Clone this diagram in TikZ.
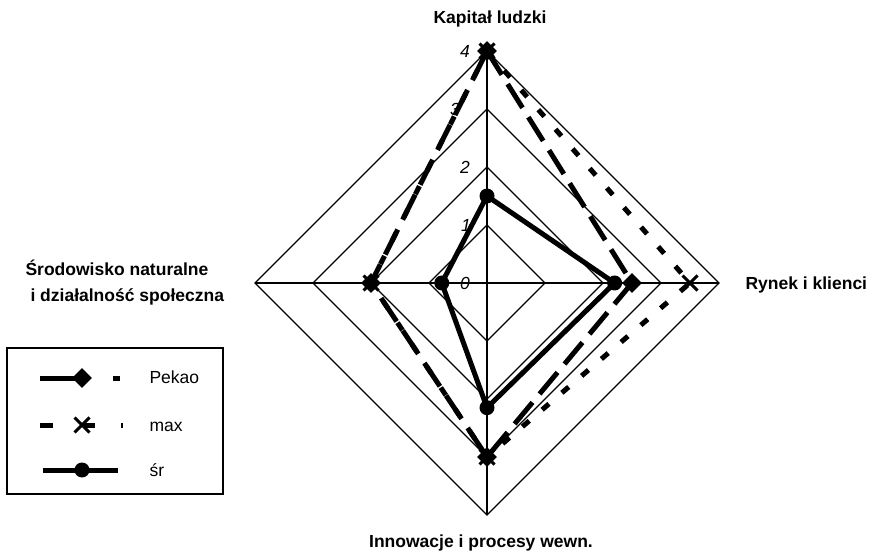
\documentclass[tikz,border=0pt]{standalone}
\usepackage{fontspec}
\setmainfont{Liberation Sans}
\usetikzlibrary{shapes,positioning,calc}

\tikzset{
  ring/.style={line width=1.3pt},
  pekaoline/.style={line width=5pt, dash pattern=on 28pt off 11pt},
  maxline/.style={line width=5pt, dash pattern=on 9pt off 17pt},
  srline/.style={line width=5pt, line join=round},
  pekaomark/.style={diamond, fill=black, inner sep=0pt, minimum size=20pt},
  srmark/.style={circle, fill=black, inner sep=0pt, minimum size=15pt},
  maxmark/.style={cross out, draw=black, line width=3pt, inner sep=0pt, minimum size=12pt},
  axlabel/.style={font=\fontsize{17.5}{21}\selectfont\bfseries},
  ticklabel/.style={font=\fontsize{17.5}{21}\selectfont\itshape},
  legtext/.style={font=\fontsize{17.5}{21}\selectfont, anchor=base west}
}

\begin{document}
\begin{tikzpicture}[x=1pt,y=-1pt]
\useasboundingbox (0,0) rectangle (873,553);
\def\u{58}
\coordinate (c) at (487,283);

% siatka
\foreach \r in {1,2,3,4}
  \draw[ring] ($(c)+(0,-\r*\u)$) -- ($(c)+(\r*\u,0)$) -- ($(c)+(0,\r*\u)$) -- ($(c)+(-\r*\u,0)$) -- cycle;
\coordinate (top) at ($(c)+(0,-4*\u)$);
\coordinate (bot) at ($(c)+(0,4*\u)$);
\coordinate (lft) at ($(c)+(-4*\u,0)$);
\coordinate (rgt) at ($(c)+(4*\u,0)$);
\draw[ring] (top) -- (bot);
\draw[ring] (lft) -- (rgt);

% skala
\foreach \v/\dx in {0/-22,1/-21,2/-22,3/-32,4/-22}
  \node[ticklabel] (t\v) at ($(c)+(\dx,-\v*\u)$) {\v};

% max
\coordinate (mx1) at ($(c)+(0,-4*\u)$);
\coordinate (mx2) at ($(c)+(3.5*\u,0)$);
\coordinate (mx3) at ($(c)+(0,3*\u)$);
\coordinate (mx4) at ($(c)+(-2*\u,0)$);
\draw[maxline] (mx1) -- (mx2) -- (mx3) -- (mx4) -- cycle;
\foreach \i in {1,...,4}
  \node[maxmark] at (mx\i) {};

% Pekao
\coordinate (pk1) at ($(c)+(0,-4*\u)$);
\coordinate (pk2) at ($(c)+(2.5*\u,0)$);
\coordinate (pk3) at ($(c)+(0,3*\u)$);
\coordinate (pk4) at ($(c)+(-2*\u,0)$);
\draw[pekaoline] (pk1) -- (pk2) -- (pk3) -- (pk4) -- cycle;
\foreach \i in {1,...,4}
  \node[pekaomark] at (pk\i) {};

% sr
\coordinate (sr1) at ($(c)+(0,-1.5*\u)$);
\coordinate (sr2) at ($(c)+(2.2*\u,0)$);
\coordinate (sr3) at ($(c)+(0,2.15*\u)$);
\coordinate (sr4) at ($(c)+(-0.78*\u,0)$);
\draw[srline] (sr1) -- (sr2) -- (sr3) -- (sr4) -- cycle;
\foreach \i in {1,...,4}
  \node[srmark] at (sr\i) {};

% opisy osi
\node[axlabel, anchor=base] (kap) at (490,24) {Kapitał ludzki};
\node[axlabel, anchor=base west] (ryn) at (742,290) {Rynek i klienci};
\node[axlabel, anchor=base] (inn) at (481,547) {Innowacje i procesy wewn.};
\node[axlabel, anchor=base west] (sro1) at (22,276) {Środowisko naturalne};
\node[axlabel, anchor=base west] (sro2) at (27,302) {i działalność społeczna};

% legenda
\draw[ring] (7,348) rectangle (223,494);
\draw[pekaoline, dash pattern=on 40pt off 33pt on 7pt off 20pt] (40,378) -- (125,378);
\node[pekaomark] (lpk) at (82,378) {};
\node[legtext] (tpk) at (146,384) {Pekao};
\draw[maxline, dash pattern=on 13pt off 31pt on 11pt off 26pt on 2pt off 10pt] (40,425) -- (125,425);
\node[maxmark] (lmx) at (82,425) {};
\node[legtext] (tmx) at (146,431) {max};
\draw[srline] (43,470) -- (118,470);
\node[srmark] (lsr) at (82,470) {};
\node[legtext] (tsr) at (146,476) {śr};
\end{tikzpicture}
\end{document}
